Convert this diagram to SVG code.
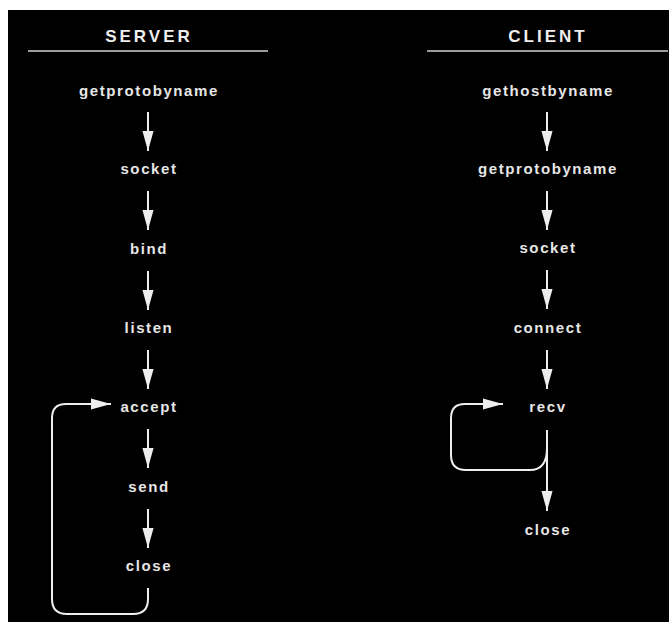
<svg xmlns="http://www.w3.org/2000/svg" width="669" height="622" viewBox="0 0 669 622">
<defs>
<marker id="ah" markerUnits="userSpaceOnUse" markerWidth="20" markerHeight="12" viewBox="0 0 18 10" refX="18" refY="5" orient="auto">
<path d="M0,0 L18,5 L0,10 Z" fill="#eeeeee"/>
</marker>
<style>
.lbl{font-family:"Liberation Sans",Arial,sans-serif;font-weight:bold;font-size:15px;letter-spacing:1.6px;fill:#e6e6e6;text-anchor:middle}
.hdr{font-family:"Liberation Sans",Arial,sans-serif;font-weight:bold;font-size:17px;letter-spacing:3px;fill:#eeeeee;text-anchor:middle}
.rule{stroke:#cfcfcf;stroke-width:1.5}
.c{fill:none;stroke:#eeeeee;stroke-width:2;marker-end:url(#ah)}
</style>
</defs>
<rect x="0" y="0" width="669" height="622" fill="#ffffff"/>
<rect x="8" y="10" width="661" height="612" fill="#000000"/>
<g id="server-header">
<text class="hdr" x="149" y="42">SERVER</text>
<line class="rule" x1="28" y1="51" x2="268" y2="51"/>
</g>
<g id="client-header">
<text class="hdr" x="548" y="42">CLIENT</text>
<line class="rule" x1="427" y1="51" x2="668" y2="51"/>
</g>
<g id="s-getprotobyname"><text class="lbl" x="149" y="96">getprotobyname</text></g>
<g id="s-socket"><text class="lbl" x="149" y="174">socket</text></g>
<g id="s-bind"><text class="lbl" x="149" y="254">bind</text></g>
<g id="s-listen"><text class="lbl" x="149" y="333">listen</text></g>
<g id="s-accept"><text class="lbl" x="149" y="412">accept</text></g>
<g id="s-send"><text class="lbl" x="149" y="492">send</text></g>
<g id="s-close"><text class="lbl" x="149" y="571">close</text></g>
<g id="c-gethostbyname"><text class="lbl" x="548" y="96">gethostbyname</text></g>
<g id="c-getprotobyname"><text class="lbl" x="548" y="174">getprotobyname</text></g>
<g id="c-socket"><text class="lbl" x="548" y="253">socket</text></g>
<g id="c-connect"><text class="lbl" x="548" y="333">connect</text></g>
<g id="c-recv"><text class="lbl" x="548" y="412">recv</text></g>
<g id="c-close"><text class="lbl" x="548" y="535">close</text></g>
<g id="connectors">
<line class="c" x1="148" y1="112" x2="148" y2="151"/>
<line class="c" x1="148" y1="191" x2="148" y2="230"/>
<line class="c" x1="148" y1="271" x2="148" y2="310"/>
<line class="c" x1="148" y1="350" x2="148" y2="389"/>
<line class="c" x1="148" y1="429" x2="148" y2="468"/>
<line class="c" x1="148" y1="509" x2="148" y2="548"/>
<path class="c" d="M148,588 L148,599 Q148,614 133,614 L67,614 Q52,614 52,599 L52,418 Q52,404 66,404 L111,404"/>
<line class="c" x1="547" y1="112" x2="547" y2="151"/>
<line class="c" x1="547" y1="191" x2="547" y2="230"/>
<line class="c" x1="547" y1="270" x2="547" y2="309"/>
<line class="c" x1="547" y1="350" x2="547" y2="389"/>
<line class="c" x1="547" y1="430" x2="547" y2="511"/>
<path class="c" d="M547,448 Q547,470 530,470 L466,470 Q451,470 451,455 L451,418 Q451,404 465,404 L503,404"/>
</g>
</svg>
